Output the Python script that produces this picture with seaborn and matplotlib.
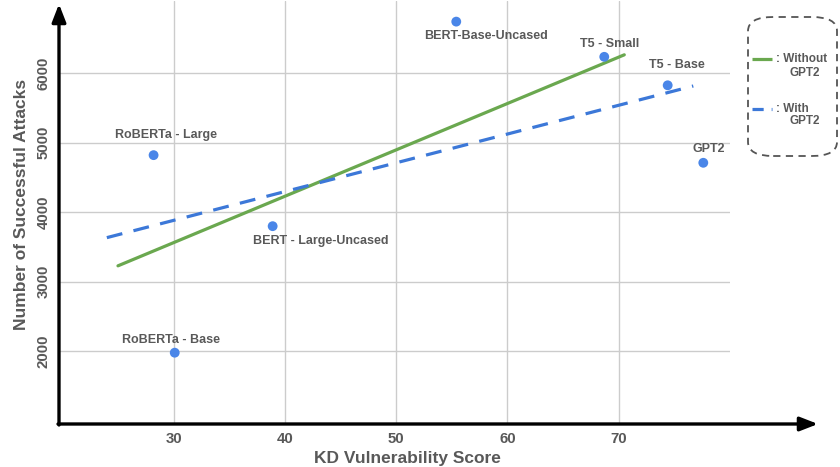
import matplotlib
matplotlib.use("Agg")
import matplotlib.pyplot as plt
from matplotlib.patches import FancyBboxPatch
from matplotlib.lines import Line2D
import seaborn as sns
import pandas as pd

# ---- data ----
models = ["RoBERTa - Large", "RoBERTa - Base", "BERT - Large-Uncased",
          "BERT-Base-Uncased", "T5 - Small", "T5 - Base", "GPT2"]
kd_score = [28.2, 30.1, 38.9, 55.4, 68.7, 74.4, 77.6]
attacks = [4820, 1975, 3797, 6743, 6236, 5826, 4710]

trend_without_x = [25.0, 70.5]
trend_without_y = [3226, 6265]
trend_with_x = [24.0, 76.7]
trend_with_y = [3632, 5816]

x_ticks = [30, 40, 50, 60, 70]
y_ticks = [2000, 3000, 4000, 5000, 6000]

# ---- style ----
sns.set_theme(style="white")
plt.rcParams["font.family"] = ["Liberation Sans", "DejaVu Sans"]
TXT = "#595959"
GREEN = "#6aa84f"
BLUE = "#3c78d8"
DOT = "#4a86e8"

fig = plt.figure(figsize=(8.4, 4.67), dpi=100)
W, H = 840, 467
ax = fig.add_axes([59 / W, 1 - 424 / H, (730 - 59) / W, (424 - 1) / H])

ax.set_xlim(19.7, 80.0)
ax.set_ylim(948, 7040)
ax.set_xticks(x_ticks)
ax.set_yticks(y_ticks)
ax.grid(True, color="#cccccc", linewidth=1.0)
ax.set_axisbelow(True)
for s in ax.spines.values():
    s.set_visible(False)
ax.tick_params(axis="both", length=0, labelsize=10.8, labelcolor=TXT, pad=6)
for lab in ax.get_xticklabels():
    lab.set_fontweight("bold")
for lab in ax.get_yticklabels():
    lab.set_fontweight("bold")
    lab.set_rotation(90)
    lab.set_va("center")

# trend lines
sns.lineplot(x=trend_without_x, y=trend_without_y, ax=ax, color=GREEN,
             linewidth=2.3, sort=False, zorder=3)
sns.lineplot(x=trend_with_x, y=trend_with_y, ax=ax, color=BLUE,
             linewidth=2.3, sort=False, zorder=3)
ax.lines[-1].set_dashes([5.0, 3.6])

# points
df = pd.DataFrame({"model": models, "kd": kd_score, "att": attacks})
sns.scatterplot(data=df, x="kd", y="att", ax=ax, color=DOT, s=50,
                edgecolor="none", zorder=4, legend=False)

label_offsets = {
    "RoBERTa - Large": (12, 20),
    "RoBERTa - Base": (-4, 13),
    "BERT - Large-Uncased": (48, -15),
    "BERT-Base-Uncased": (30, -14),
    "T5 - Small": (5, 13),
    "T5 - Base": (9, 20),
    "GPT2": (5, 14),
}
for m, xv, yv in zip(models, kd_score, attacks):
    dx, dy = label_offsets[m]
    ax.annotate(m, (xv, yv), xytext=(dx, dy), textcoords="offset pixels",
                ha="center", va="center", fontsize=9, fontweight="bold",
                color=TXT, zorder=5)

ax.set_xlabel("KD Vulnerability Score", fontsize=12.5, fontweight="bold",
              color=TXT)
ax.set_ylabel("Number of Successful Attacks", fontsize=12.5,
              fontweight="bold", color=TXT)
ax.xaxis.set_label_coords(0.519, -0.063)
ax.yaxis.set_label_coords(-0.045, 0.519)

# axis arrows
arrow_kw = dict(arrowstyle="-|>,head_length=0.9,head_width=0.35",
                color="black", lw=2.4, shrinkA=0, shrinkB=0)
ax.annotate("", xy=(818 / W, 1 - 424 / H), xytext=(58 / W, 1 - 424 / H),
            xycoords="figure fraction", textcoords="figure fraction",
            arrowprops=arrow_kw, annotation_clip=False)
ax.annotate("", xy=(59 / W, 1 - 4 / H), xytext=(59 / W, 1 - 425 / H),
            xycoords="figure fraction", textcoords="figure fraction",
            arrowprops=arrow_kw, annotation_clip=False)

# legend box
box = FancyBboxPatch((748 / W, 1 - 156 / H), (837 - 748) / W, (156 - 17) / H,
                     boxstyle="round,pad=0,rounding_size=0.03",
                     transform=fig.transFigure, fill=False,
                     edgecolor="#555555", linewidth=1.3, linestyle=(0, (4, 3)))
fig.patches.append(box)
fig.lines.append(Line2D([752 / W, 772 / W], [1 - 59 / H, 1 - 59 / H],
                        transform=fig.transFigure, color=GREEN, linewidth=2.3,
                        solid_capstyle="butt"))
fig.lines.append(Line2D([752 / W, 772 / W], [1 - 109 / H, 1 - 109 / H],
                        transform=fig.transFigure, color=BLUE, linewidth=2.3,
                        dashes=[3.5, 2.5], dash_capstyle="butt"))
fig.text(776 / W, 1 - 59 / H, ": Without", fontsize=8.5, fontweight="bold",
         color=TXT, ha="left", va="center")
fig.text(805 / W, 1 - 73 / H, "GPT2", fontsize=8.5, fontweight="bold",
         color=TXT, ha="center", va="center")
fig.text(776 / W, 1 - 109 / H, ": With", fontsize=8.5, fontweight="bold",
         color=TXT, ha="left", va="center")
fig.text(805 / W, 1 - 121 / H, "GPT2", fontsize=8.5, fontweight="bold",
         color=TXT, ha="center", va="center")

fig.savefig("out.png", dpi=100)
